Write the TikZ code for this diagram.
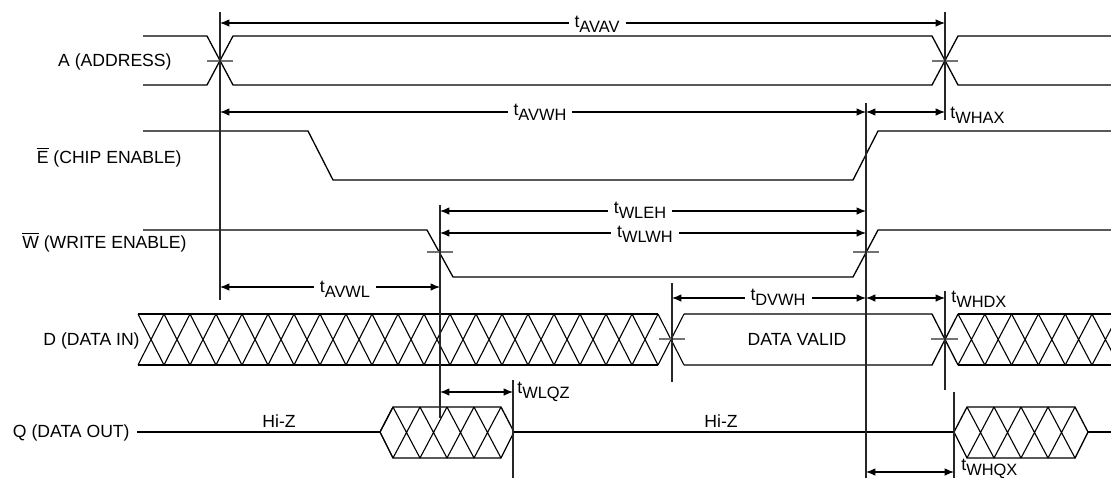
\documentclass[tikz,border=0pt]{standalone}
\usepackage{fontspec}
\setmainfont{Liberation Sans}
\usetikzlibrary{arrows.meta}

\newcommand{\tsym}[1]{t\raisebox{-2.5pt}{\fontsize{8.2}{8.2}\selectfont #1}}
\newcommand{\barsig}[1]{\ensuremath{\overline{\mbox{#1}}}}

\begin{document}
\begin{tikzpicture}[
    x=0.5pt, y=-0.5pt,
    font=\fontsize{8.8}{10}\selectfont,
    wave/.style={
        draw=black,
        line width=0.65pt
    },
    hatch/.style={
        draw=black,
        line width=0.55pt
    },
    refline/.style={
        draw=black!85,
        line width=0.55pt
    },
    tick/.style={
        draw=black!55,
        line width=0.6pt
    },
    dimarrow/.style={
        draw=black,
        line width=0.55pt,
        {Latex[length=4.7pt,width=3.8pt]}-{Latex[length=4.7pt,width=3.8pt]}
    },
    dimlabel/.style={fill=white, inner xsep=3pt, inner ysep=0pt, anchor=base},
    sidelabel/.style={inner sep=0pt, anchor=base west},
    signame/.style={inner sep=0pt, anchor=base east}
]
\useasboundingbox (0,0) rectangle (1111,478);

% signal names
\node[signame] (sigA) at (172,66) {A (ADDRESS)};
\node[signame] (sigE) at (182,163) {\barsig{E} (CHIP ENABLE)};
\node[signame] (sigW) at (187,248) {\barsig{W} (WRITE ENABLE)};
\node[signame] (sigD) at (140,345) {D (DATA IN)};
\node[signame] (sigQ) at (130,437) {Q (DATA OUT)};

% ------------------------------------------------------------
% waveforms
% ------------------------------------------------------------
% address
\draw[wave] (143,36) -- (207,36) -- (233,85) -- (932,85) -- (958,36) -- (1111,36);
\draw[wave] (143,85) -- (207,85) -- (233,36) -- (932,36) -- (958,85) -- (1111,85);
\draw[tick] (207,61) -- (233,61);
\draw[tick] (932,61) -- (958,61);

% chip enable
\draw[wave] (143,131) -- (308,131) -- (333,180) -- (853,180) -- (878,131) -- (1111,131);

% write enable
\draw[wave] (143,230) -- (427,230) -- (453,277) -- (853,277) -- (878,230) -- (1111,230);
\draw[tick] (427,252) -- (453,252);
\draw[tick] (853,252) -- (879,252);

% data in: don't care, valid, don't care
\foreach \k in {0,...,20} {
    \draw[hatch] (138+26*\k,314) -- (164+26*\k,365)
                 (138+26*\k,365) -- (164+26*\k,314);
}
\draw[wave] (138,314) -- (658,314) (138,365) -- (658,365);
\draw[wave] (684,314) -- (932,314) -- (958,365);
\draw[wave] (684,365) -- (932,365) -- (958,314);
\foreach \k in {0,...,5} {
    \draw[hatch] (958+26.8*\k,314) -- (984.8+26.8*\k,365)
                 (958+26.8*\k,365) -- (984.8+26.8*\k,314);
}
\draw[wave] (958,314) -- (1111,314) (958,365) -- (1111,365);
\draw[tick] (659,339) -- (685,339);
\draw[tick] (931,339) -- (958,339);
\node (valid) at (797,345) [anchor=base] {DATA VALID};

% data out: Hi-Z, driven, Hi-Z, driven
\draw[wave] (137,432) -- (380,432);
\draw[wave] (380,432) -- (393,407) -- (501,407) -- (514,432) -- (501,458) -- (393,458) -- cycle;
\draw[hatch] (380,432) -- (393,458) (380,432) -- (393,407);
\foreach \k in {0,...,3} {
    \draw[hatch] (393+27*\k,407) -- (420+27*\k,458)
                 (393+27*\k,458) -- (420+27*\k,407);
}
\draw[wave] (514,432) -- (954,432);
\draw[wave] (954,432) -- (967,407) -- (1075,407) -- (1088,432) -- (1075,458) -- (967,458) -- cycle;
\foreach \k in {0,...,3} {
    \draw[hatch] (967+27*\k,407) -- (994+27*\k,458)
                 (967+27*\k,458) -- (994+27*\k,407);
}
\draw[wave] (1088,432) -- (1111,432);
\node (hiz1) at (279,427) [anchor=base] {Hi-Z};
\node (hiz2) at (721,427) [anchor=base] {Hi-Z};

% ------------------------------------------------------------
% reference lines
% ------------------------------------------------------------
\draw[refline] (220,12) -- (220,300);
\draw[refline] (945,12) -- (945,120);
\draw[refline] (866,103) -- (866,478);
\draw[refline] (440,205) -- (440,418);
\draw[refline] (672,283) -- (672,382);
\draw[refline] (945,291) -- (945,390);
\draw[refline] (513,380) -- (513,478);
\draw[refline] (954,392) -- (954,478);

% ------------------------------------------------------------
% timing parameters
% ------------------------------------------------------------
\coordinate (avav-s) at (220,23);  \coordinate (avav-e) at (945,23);
\coordinate (avwh-s) at (220,112); \coordinate (avwh-e) at (866,112);
\coordinate (whax-e) at (945,112);
\coordinate (wleh-s) at (440,211); \coordinate (wleh-e) at (866,211);
\coordinate (wlwh-s) at (440,233); \coordinate (wlwh-e) at (866,233);
\coordinate (avwl-s) at (220,287); \coordinate (avwl-e) at (440,287);
\coordinate (dvwh-s) at (672,298); \coordinate (dvwh-e) at (866,298);
\coordinate (whdx-e) at (945,298);
\coordinate (wlqz-s) at (440,392); \coordinate (wlqz-e) at (513,392);
\coordinate (whqx-s) at (866,472); \coordinate (whqx-e) at (954,472);

\draw[dimarrow] (avav-s) -- (avav-e);
\node[dimlabel] (avav) at (597,27) {\tsym{AVAV}};

\draw[dimarrow] (avwh-s) -- (avwh-e);
\node[dimlabel] (avwh) at (540,115) {\tsym{AVWH}};
\draw[dimarrow] (avwh-e) -- (whax-e);
\node[sidelabel] (whax) at (950,118) {\tsym{WHAX}};

\draw[dimarrow] (wleh-s) -- (wleh-e);
\node[dimlabel] (wleh) at (640,213) {\tsym{WLEH}};
\draw[dimarrow] (wlwh-s) -- (wlwh-e);
\node[dimlabel] (wlwh) at (645,237) {\tsym{WLWH}};

\draw[dimarrow] (avwl-s) -- (avwl-e);
\node[dimlabel] (avwl) at (345,292) {\tsym{AVWL}};

\draw[dimarrow] (dvwh-s) -- (dvwh-e);
\node[dimlabel] (dvwh) at (778,300) {\tsym{DVWH}};
\draw[dimarrow] (dvwh-e) -- (whdx-e);
\node[sidelabel] (whdx) at (951,302) {\tsym{WHDX}};

\draw[dimarrow] (wlqz-s) -- (wlqz-e);
\node[sidelabel] (wlqz) at (517,393) {\tsym{WLQZ}};

\draw[dimarrow] (whqx-s) -- (whqx-e);
\node[sidelabel] (whqx) at (961,470) {\tsym{WHQX}};

\end{tikzpicture}
\end{document}
